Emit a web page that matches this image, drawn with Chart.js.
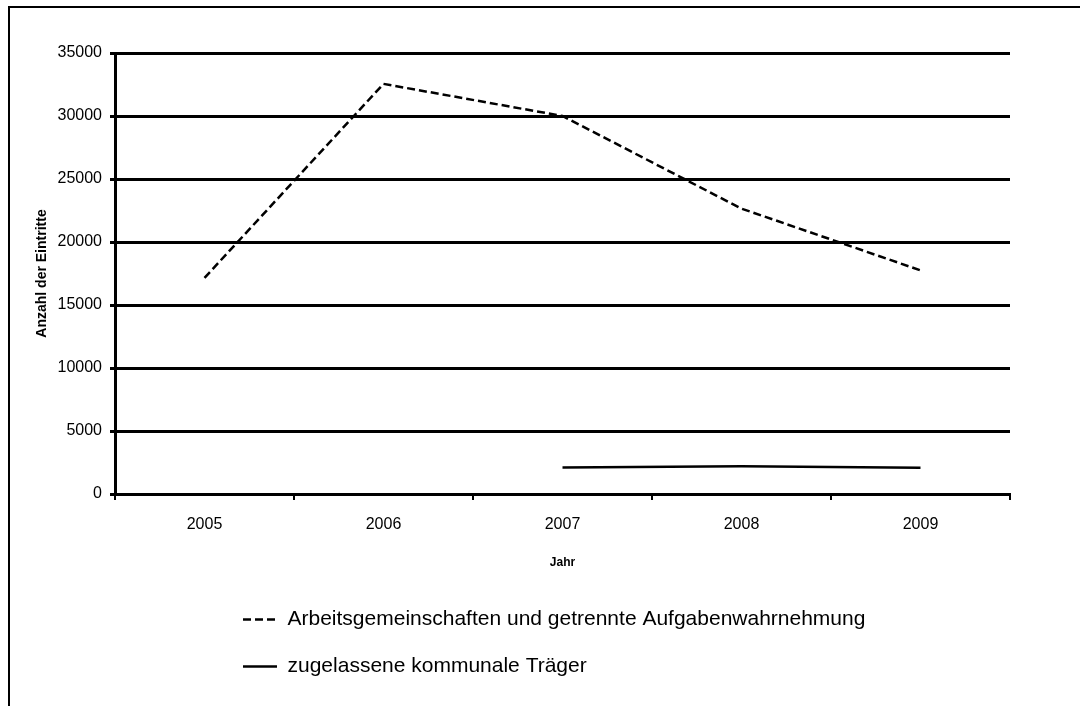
<!DOCTYPE html>
<html>
<head>
<meta charset="utf-8">
<script src="https://cdn.jsdelivr.net/npm/chart.js@4"></script>
<style>
  html, body { margin: 0; padding: 0; background: #fff; overflow: hidden; }
  #wrap { position: relative; width: 1080px; height: 706px; }
  #frame { position: absolute; left: 8px; top: 6px; width: 1200px; height: 800px;
           border: 2px solid #000; pointer-events: none; }
</style>
</head>
<body>
<div id="wrap">
  <canvas id="chLine" width="1080" height="706"></canvas>
  <div id="frame"></div>
</div>
<script>
// data
var years = ['2005', '2006', '2007', '2008', '2009'];
var argeValues = [17150, 32550, 30000, 22650, 17750];
var zktValues = [null, null, 2100, 2200, 2080];
var seriesNames = ['Arbeitsgemeinschaften und getrennte Aufgabenwahrnehmung', 'zugelassene kommunale Träger'];

Chart.defaults.font.family = "'Liberation Sans', Arial, sans-serif";
Chart.defaults.color = '#000';

// push the wrapped legend block to the right, like the original
var legendShift = {
  id: 'legendShift',
  afterLayout: function (chart) {
    chart.legend.left += 102;
    chart.legend.right += 102;
  }
};

new Chart(document.getElementById('chLine'), {
  type: 'line',
  data: {
    labels: years,
    datasets: [
      {
        label: seriesNames[0],
        data: argeValues,
        borderColor: '#000',
        backgroundColor: '#000',
        borderWidth: 2.5,
        borderDash: [8, 4],
        pointRadius: 0,
        tension: 0
      },
      {
        label: seriesNames[1],
        data: zktValues,
        borderColor: '#000',
        backgroundColor: '#000',
        borderWidth: 2.5,
        pointRadius: 0,
        tension: 0
      }
    ]
  },
  options: {
    responsive: false,
    animation: false,
    layout: { padding: { left: 34, right: 70, top: 53, bottom: 19 } },
    plugins: {
      tooltip: { enabled: false },
      legend: {
        position: 'bottom',
        fullSize: false,
        align: 'start',
        labels: {
          usePointStyle: true,
          pointStyle: 'line',
          pointStyleWidth: 34,
          padding: 26,
          color: '#000',
          font: { size: 21 },
          generateLabels: function (chart) {
            var items = Chart.defaults.plugins.legend.labels.generateLabels(chart);
            items.forEach(function (it) {
              var ds = chart.data.datasets[it.datasetIndex];
              it.lineDash = ds.borderDash || [];
              it.lineWidth = 2.5;
              it.strokeStyle = '#000';
            });
            return items;
          }
        }
      }
    },
    scales: {
      x: {
        offset: true,
        grid: { offset: true, drawOnChartArea: false, color: '#000', lineWidth: 2, tickLength: 6 },
        border: { display: true, color: '#000', width: 3 },
        ticks: { font: { size: 16 }, padding: 15, color: '#000' },
        title: { display: true, text: 'Jahr', font: { size: 12, weight: 'bold' }, padding: { top: 0, bottom: 13 } },
        afterFit: function (scale) { scale.height = 89; }
      },
      y: {
        min: 0,
        max: 35000,
        ticks: {
          stepSize: 5000, font: { size: 16 }, padding: 8, color: '#000',
          callback: function (v) { return String(v); }
        },
        grid: { color: '#000', lineWidth: 3, tickLength: 5 },
        border: { display: true, color: '#000', width: 3 },
        title: { display: true, text: 'Anzahl der Eintritte', font: { size: 14, weight: 'bold' }, padding: 0 },
        afterFit: function (scale) { scale.width = 81; }
      }
    }
  },
  plugins: [legendShift]
});
</script>
</body>
</html>
